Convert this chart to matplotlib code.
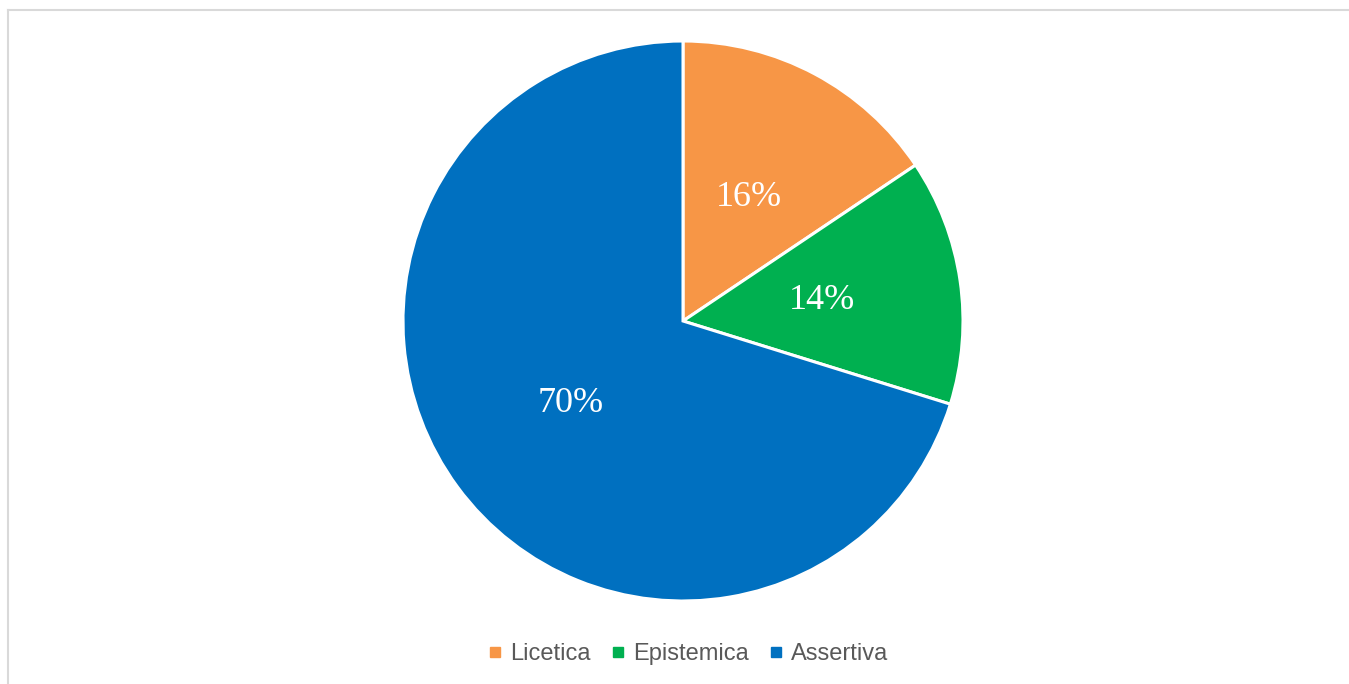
import matplotlib.pyplot as plt
from matplotlib.lines import Line2D

labels = ["Licetica", "Epistemica", "Assertiva"]
values = [15.6, 14.2, 70.2]
colors = ["#F79646", "#00B050", "#0070C0"]

fig = plt.figure(figsize=(13.49, 6.84), dpi=100)

# outer frame (only top and left edge visible in the reference)
fig.add_artist(Line2D([7.5 / 1349, 1.0], [1 - 9.5 / 684] * 2, color="#d9d9d9", lw=1.5))
fig.add_artist(Line2D([7.5 / 1349] * 2, [0, 1 - 9.5 / 684], color="#d9d9d9", lw=1.5))

# pie: centre (683, 321) px, radius 280 px
cx, cy, r = 683, 321, 280
ax = fig.add_axes([(cx - r) / 1349, 1 - (cy + r) / 684, 2 * r / 1349, 2 * r / 684])
wedges, texts, autotexts = ax.pie(
    values, colors=colors, startangle=90, counterclock=False,
    autopct="%1.0f%%", pctdistance=0.5,
    wedgeprops=dict(edgecolor="white", linewidth=2.2),
    textprops=dict(color="white", fontsize=26, family="Liberation Serif"),
)
ax.set_xlim(-1, 1)
ax.set_ylim(-1, 1)
ax.set_aspect("equal")

handles = [Line2D([], [], marker="s", color=c, ls="none", markersize=7) for c in colors]
fig.legend(handles, labels, loc="center", bbox_to_anchor=(688 / 1349, 1 - 654 / 684),
           ncol=3, frameon=False, handlelength=0.6, handletextpad=0.35, columnspacing=0.85,
           prop=dict(family="Liberation Sans", size=17), labelcolor="#595959")

fig.savefig("out.png", dpi=100)
